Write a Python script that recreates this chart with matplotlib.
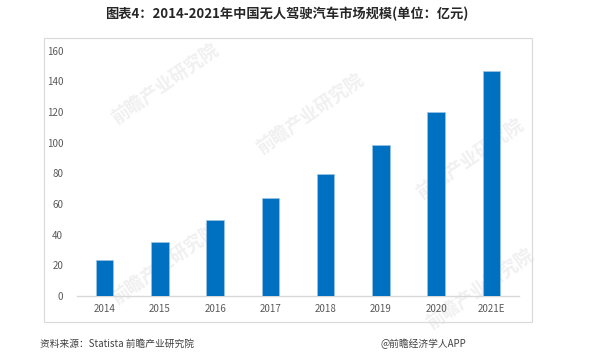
import matplotlib
matplotlib.use("Agg")
import matplotlib.pyplot as plt
from matplotlib.patches import Rectangle

plt.rcParams['font.family'] = ['Noto Sans CJK SC', 'DejaVu Sans']

# 数据
years = ['2014', '2015', '2016', '2017', '2018', '2019', '2020', '2021E']
market_size = [23.5, 35.4, 49.4, 63.7, 79.8, 98.3, 120.2, 146.8]
y_ticks = [0, 20, 40, 60, 80, 100, 120, 140, 160]

title = '图表4：2014-2021年中国无人驾驶汽车市场规模(单位：亿元)'
source = '资料来源：Statista 前瞻产业研究院'
brand = '@前瞻经济学人APP'

W, H = 600, 360
fig = plt.figure(figsize=(6, 3.6), dpi=100)

# 外框
fig.patches.append(Rectangle((44 / W, 1 - 322 / H), (532 - 44) / W, (322 - 38) / H,
                             transform=fig.transFigure, fill=False,
                             edgecolor='#d9d9d9', linewidth=0.8))

ax = fig.add_axes([77 / W, 1 - 296 / H, (519 - 77) / W, (296 - 50.7) / H])
ax.bar(range(len(years)), market_size, width=0.32, color='#0070c0',
       edgecolor='#9dc3e6', linewidth=0.5, zorder=3)

ax.set_xlim(-0.5, len(years) - 0.5)
ax.set_ylim(0, 160)
ax.set_yticks(y_ticks)
ax.set_xticks(range(len(years)))
ax.set_xticklabels(years)
ax.tick_params(axis='both', length=0, labelsize=7, labelcolor='#595959')
ax.tick_params(axis='y', pad=10)
ax.tick_params(axis='x', pad=6)
for s in ['top', 'right', 'left']:
    ax.spines[s].set_visible(False)
ax.spines['bottom'].set_color('#d9d9d9')
ax.spines['bottom'].set_linewidth(1)
ax.patch.set_alpha(0)

# 水印（放在柱子后面）
for (wx, wy) in [(165, 85), (310, 115), (165, 265), (470, 160), (480, 290)]:
    fig.text(wx / W, 1 - wy / H, '前瞻产业研究院', fontsize=13, color='#f0f0f0',
             rotation=35, ha='center', va='center', fontweight='bold', zorder=-1)

fig.text(287 / W, 1 - 14 / H, title, ha='center', va='center',
         fontsize=9.5, fontweight='bold', color='#262626')
fig.text(40 / W, 1 - 344 / H, source, ha='left', va='center',
         fontsize=7, color='#404040')
fig.text(466 / W, 1 - 344 / H, brand, ha='right', va='center',
         fontsize=7, color='#404040')

fig.savefig('out.png', dpi=100)
